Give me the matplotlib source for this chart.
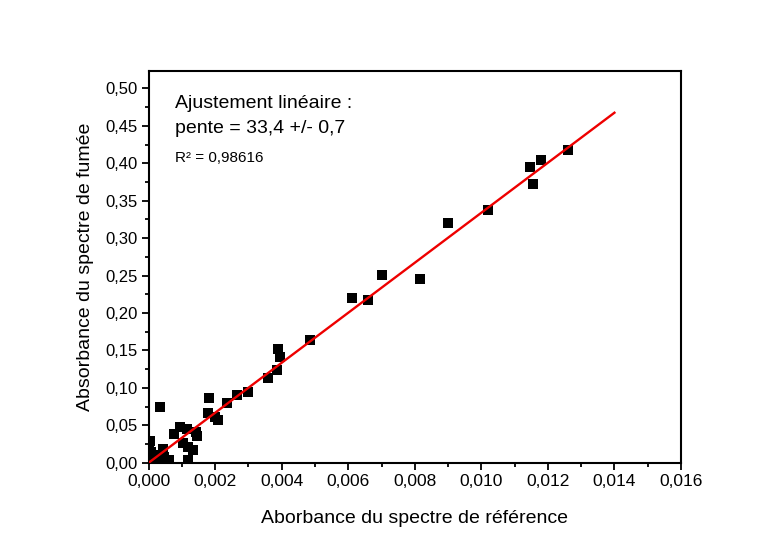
import matplotlib
matplotlib.use("Agg")
import matplotlib.pyplot as plt
from matplotlib.ticker import MultipleLocator, FuncFormatter
import numpy as np

plt.rcParams['font.family'] = ['Liberation Sans', 'DejaVu Sans']

# Data
x_ref = [0.01259, 0.01178, 0.01145, 0.01154, 0.01019, 0.00899, 0.00815, 0.00701,
         0.00659, 0.00610, 0.00484, 0.00394, 0.00388, 0.00385, 0.00358, 0.00298,
         0.00264, 0.00234, 0.00209, 0.00200, 0.00181, 0.00178, 0.00144, 0.00142,
         0.00133, 0.00115, 0.00118, 0.00118, 0.00094, 0.00102, 0.00075, 0.00062,
         0.00035, 0.00042, 0.00047, 0.00005, 0.00008, 0.00018, 0.00022, 0.00000]
y_smoke = [0.418, 0.404, 0.395, 0.372, 0.338, 0.320, 0.245, 0.251,
           0.217, 0.220, 0.164, 0.141, 0.152, 0.124, 0.113, 0.094,
           0.090, 0.080, 0.057, 0.061, 0.087, 0.066, 0.036, 0.041,
           0.017, 0.045, 0.021, 0.004, 0.048, 0.026, 0.039, 0.004,
           0.075, 0.019, 0.007, 0.029, 0.014, 0.006, 0.010, 0.020]

fit_slope = 33.4
fit_intercept = 0.0
fit_xrange = [0.0, 0.014]

x_ticks_major = 0.002
y_ticks_major = 0.05

fig = plt.figure(figsize=(7.74, 5.44), dpi=100)
ax = fig.add_axes([0.1921, 0.1494, 0.6877, 0.7210])

ax.scatter(x_ref, y_smoke, marker='s', s=46, color='black', zorder=3, linewidths=0)
fx = np.array(fit_xrange)
ax.plot(fx, fit_slope * fx + fit_intercept, color='#ee0000', lw=1.7, zorder=4)

ax.set_xlim(0, 0.016)
ax.set_ylim(0, 0.524)
ax.xaxis.set_major_locator(MultipleLocator(x_ticks_major))
ax.xaxis.set_minor_locator(MultipleLocator(x_ticks_major / 2))
ax.yaxis.set_major_locator(MultipleLocator(y_ticks_major))
ax.yaxis.set_minor_locator(MultipleLocator(y_ticks_major / 2))
ax.xaxis.set_major_formatter(FuncFormatter(lambda v, p: f"{v:.3f}".replace('.', ',')))
ax.yaxis.set_major_formatter(FuncFormatter(lambda v, p: f"{v:.2f}".replace('.', ',')))
ax.tick_params(which='major', direction='out', length=5, width=1.3, labelsize=12, pad=3)
ax.tick_params(axis='x', which='major', labelsize=12.5)
ax.tick_params(which='minor', direction='out', length=3, width=1.3)
for s in ax.spines.values():
    s.set_linewidth(1.5)

ax.set_xlabel("Aborbance du spectre de référence", fontsize=14, labelpad=15)
ax.set_ylabel("Absorbance du spectre de fumée", fontsize=14, labelpad=8)

ax.text(0.05, 0.915, "Ajustement linéaire :", transform=ax.transAxes, fontsize=14, va='center')
ax.text(0.05, 0.852, "pente = 33,4 +/- 0,7", transform=ax.transAxes, fontsize=14, va='center')
ax.text(0.05, 0.778, "R² = 0,98616", transform=ax.transAxes, fontsize=11, va='center')

fig.savefig("out.png", dpi=100)
